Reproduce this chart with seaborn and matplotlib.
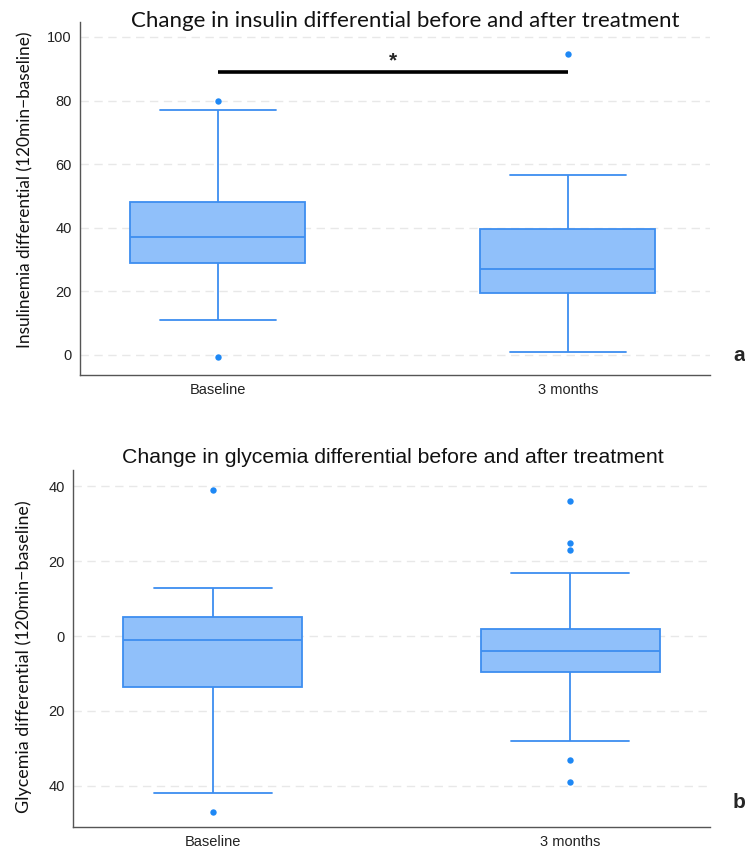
import matplotlib
matplotlib.use("Agg")
import matplotlib.pyplot as plt
import seaborn as sns
import pandas as pd

# ---- data ----
groups = ["Baseline", "3 months"]

# five-number summaries: [lower whisker, Q1, median, Q3, upper whisker]
insulin_baseline_box = [11, 29, 37, 48, 77]
insulin_3m_box = [1, 19.5, 27, 39.5, 56.5]
insulin_baseline_out = [80, -0.7]
insulin_3m_out = [94.7]

glyc_baseline_box = [-42, -13.6, -1, 5, 13]
glyc_3m_box = [-28, -9.6, -4, 2, 17]
glyc_baseline_out = [39, -47]
glyc_3m_out = [36, 25, 23, -33, -39]

insulin_ticks = [0, 20, 40, 60, 80, 100]
insulin_tick_labels = ["0", "20", "40", "60", "80", "100"]
glyc_ticks = [40, 20, 0, -20, -40]
glyc_tick_labels = ["40", "20", "0", "20", "40"]

sig_y = 89
sig_star_y = 92.5

FILL = "#90C0FA"
EDGE = "#3D8EF0"
DOT = "#1E88F5"
W, H = 745, 848

sns.set_style("white")
plt.rcParams["font.family"] = ["Liberation Sans", "DejaVu Sans"]


def long_df(a, b):
    return pd.DataFrame({"group": [groups[0]] * len(a) + [groups[1]] * len(b),
                         "value": list(a) + list(b)})


fig = plt.figure(figsize=(W / 100, H / 100), dpi=100)
ax1 = fig.add_axes([80 / W, 1 - 375 / H, 630 / W, 353 / H])
ax2 = fig.add_axes([73 / W, 1 - 827 / H, 637 / W, 357 / H])


def draw(ax, box_a, box_b, out_a, out_b, ticks, labels, ylim, xlim):
    sns.boxplot(data=long_df(box_a, box_b), x="group", y="value", order=groups,
                ax=ax, whis=(0, 100), width=0.5, color=FILL, saturation=1,
                linecolor=EDGE, linewidth=1.3, capwidths=0.33)
    sns.stripplot(data=long_df(out_a, out_b), x="group", y="value", order=groups,
                  ax=ax, jitter=False, color=DOT, size=4.6, linewidth=0)
    ax.set_ylim(*ylim)
    ax.set_xlim(*xlim)
    ax.set_yticks(ticks)
    ax.set_yticklabels(labels, fontsize=10.5, color="#222222")
    ax.tick_params(axis="x", length=0, labelsize=10.5, pad=6, labelcolor="#222222")
    ax.tick_params(axis="y", length=4, width=0.8, color="#555555", pad=2)
    ax.set_xlabel("")
    ax.set_ylabel("")
    ax.grid(axis="y", color="#E8E8E8", linestyle=(0, (6, 4)), linewidth=1)
    ax.set_axisbelow(True)
    for s in ["top", "right"]:
        ax.spines[s].set_visible(False)
    for s in ["left", "bottom"]:
        ax.spines[s].set_color("#555555")
        ax.spines[s].set_linewidth(1)


draw(ax1, insulin_baseline_box, insulin_3m_box, insulin_baseline_out, insulin_3m_out,
     insulin_ticks, insulin_tick_labels, (-6.3, 104.7), (-0.394, 1.406))
draw(ax2, glyc_baseline_box, glyc_3m_box, glyc_baseline_out, glyc_3m_out,
     glyc_ticks, glyc_tick_labels, (-51, 44.4), (-0.39, 1.39))

ax1.plot([0, 1], [sig_y, sig_y], color="black", linewidth=2.6, solid_capstyle="butt")
ax1.text(0.5, sig_star_y, "*", ha="center", va="center", fontsize=15, fontweight="bold")

# titles / y labels placed in figure pixels
t1 = fig.text((131 + 680) / 2 / W, 1 - 27 / H,
              "Change in insulin differential before and after treatment",
              family=["Lato", "DejaVu Sans"], fontsize=14, ha="center", va="baseline",
              color="#111111")
t2 = fig.text((120 + 665) / 2 / W, 1 - 463 / H,
              "Change in glycemia differential before and after treatment",
              family=["Liberation Sans", "DejaVu Sans"], fontsize=15, ha="center",
              va="baseline", color="#111111")
y1 = fig.text(25 / W, 1 - (32 + 348) / 2 / H,
              "Insulinemia differential (120min\u2212baseline)",
              family=["Lato", "DejaVu Sans"], fontsize=11, rotation=90,
              ha="center", va="center", color="#111111")
y2 = fig.text(24 / W, 1 - (501 + 813) / 2 / H,
              "Glycemia differential (120min\u2212baseline)",
              family=["Lato", "DejaVu Sans"], fontsize=11, rotation=90,
              ha="center", va="center", color="#111111")

# scale font sizes so text extents match the reference
fig.canvas.draw()
r = fig.canvas.get_renderer()
for t, target, horiz in [(t1, 549, True), (t2, 545, True), (y1, 316, False), (y2, 312, False)]:
    bb = t.get_window_extent(r)
    cur = bb.width if horiz else bb.height
    t.set_fontsize(t.get_fontsize() * target / cur)

fig.text(733 / W, 1 - 356 / H, "a", fontsize=15, fontweight="bold",
         va="center", ha="left")
fig.text(733 / W, 1 - 802 / H, "b", fontsize=15, fontweight="bold",
         va="center", ha="left")

fig.savefig("out.png", dpi=100)
